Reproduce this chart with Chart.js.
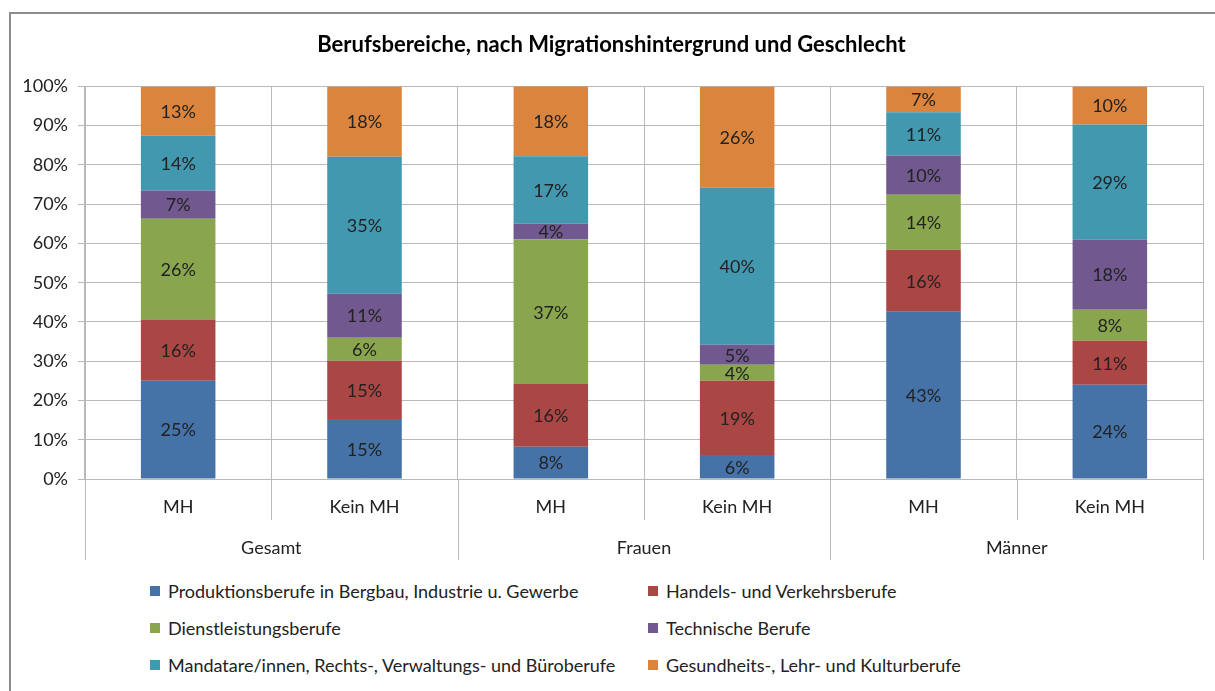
<!DOCTYPE html>
<html lang="de">
<head>
<meta charset="utf-8"/>
<title>Berufsbereiche</title>
<script src="https://cdn.jsdelivr.net/npm/chart.js"></script>
<style>
  body { margin: 0; background: #fff; font-family: Lato, sans-serif; }
  #wrap { position: relative; width: 1215px; height: 691px; overflow: hidden; }
  #frame { position: absolute; left: 9px; top: 12px; width: 1240px; height: 720px;
           border-left: 2px solid #8c8c8c; border-top: 2px solid #8c8c8c; }
  #chart { position: absolute; left: 0; top: 0; }
  #legend { position: absolute; left: 150px; top: 580px; display: grid;
            grid-template-columns: 498px 420px; row-gap: 15px; font-size: 18px; color: #222; }
  .item { display: flex; align-items: center; height: 22px; white-space: nowrap; }
  .box { width: 10px; height: 10px; margin-right: 8px; }
</style>
</head>
<body>
<div id="wrap">
  <div id="frame"></div>
  <canvas id="chart" width="1215" height="570"></canvas>
  <div id="legend"></div>
</div>
<script>
  const categories = ['MH', 'Kein MH', 'MH', 'Kein MH', 'MH', 'Kein MH'];
  const groups = ['Gesamt', 'Frauen', 'Männer'];

  const produktion = [25.0, 15.3, 8.2, 6.1, 42.6, 24.0];
  const handel     = [15.6, 14.8, 16.0, 18.9, 15.8, 11.2];
  const dienst     = [25.7, 5.9, 36.8, 4.1, 14.0, 7.9];
  const technisch  = [7.2, 11.2, 4.1, 5.1, 10.0, 17.9];
  const mandatare  = [14.0, 34.9, 17.1, 40.0, 11.0, 29.3];
  const gesundheit = [12.5, 17.9, 17.9, 25.8, 6.6, 9.7];

  const seriesNames = [
    'Produktionsberufe in Bergbau, Industrie u. Gewerbe',
    'Handels- und Verkehrsberufe',
    'Dienstleistungsberufe',
    'Technische Berufe',
    'Mandatare/innen, Rechts-, Verwaltungs- und Büroberufe',
    'Gesundheits-, Lehr- und Kulturberufe'
  ];
  const seriesData = [produktion, handel, dienst, technisch, mandatare, gesundheit];
  const colors = ['#4572A7', '#AA4643', '#89A54E', '#71588F', '#4198AF', '#DB843D'];

  const gridColor = '#b9b9b9';

  // Beschriftung in den Balken
  const valueLabels = {
    id: 'valueLabels',
    afterDatasetsDraw(chart) {
      const ctx = chart.ctx;
      ctx.save();
      ctx.font = '18px Lato, sans-serif';
      ctx.fillStyle = '#222';
      ctx.textAlign = 'center';
      ctx.textBaseline = 'middle';
      chart.data.datasets.forEach((ds, i) => {
        chart.getDatasetMeta(i).data.forEach((bar, j) => {
          const y = (bar.y + bar.base) / 2;
          ctx.fillText(Math.round(ds.data[j]) + '%', bar.x, y + 1);
        });
      });
      ctx.restore();
    }
  };

  // zweistufige Kategorienachse
  const groupAxis = {
    id: 'groupAxis',
    afterDraw(chart) {
      const x = chart.scales.x;
      const ctx = chart.ctx;
      const bottom = chart.chartArea.bottom;
      const half = (x.getPixelForValue(1) - x.getPixelForValue(0)) / 2;
      ctx.save();
      ctx.strokeStyle = gridColor;
      ctx.lineWidth = 1;
      for (let i = 0; i <= categories.length; i++) {
        const px = Math.round(x.getPixelForValue(i) - half) + 0.5;
        const len = i % 2 === 0 ? 81 : 41;
        ctx.beginPath();
        ctx.moveTo(px, bottom);
        ctx.lineTo(px, bottom + len);
        ctx.stroke();
      }
      ctx.font = '18px Lato, sans-serif';
      ctx.fillStyle = '#222';
      ctx.textAlign = 'center';
      ctx.textBaseline = 'middle';
      groups.forEach((g, k) => {
        const cx = (x.getPixelForValue(2 * k) + x.getPixelForValue(2 * k + 1)) / 2;
        ctx.fillText(g, cx, bottom + 69);
      });
      ctx.restore();
    }
  };

  new Chart(document.getElementById('chart'), {
    type: 'bar',
    data: {
      labels: categories,
      datasets: seriesData.map((d, i) => ({
        label: seriesNames[i],
        data: d,
        backgroundColor: colors[i],
        borderWidth: 0,
        barPercentage: 0.4,
        categoryPercentage: 1
      }))
    },
    options: {
      responsive: false,
      devicePixelRatio: 1,
      animation: false,
      layout: { padding: { left: 20, right: 12, top: 0, bottom: 0 } },
      plugins: {
        legend: { display: false },
        tooltip: { enabled: false },
        title: {
          display: true,
          text: 'Berufsbereiche, nach Migrationshintergrund und Geschlecht',
          color: '#000',
          font: { family: 'Lato, sans-serif', size: 22, weight: 'bold' },
          padding: { top: 32, bottom: 28 }
        }
      },
      scales: {
        x: {
          stacked: true,
          grid: { color: gridColor, offset: true, drawTicks: false },
          border: { color: gridColor },
          ticks: { color: '#222', font: { family: 'Lato, sans-serif', size: 18 }, padding: 17 },
          afterFit(s) { s.height = 91; }
        },
        y: {
          stacked: true,
          min: 0,
          max: 100,
          grid: { color: gridColor, tickLength: 7 },
          border: { color: gridColor },
          ticks: {
            stepSize: 10,
            color: '#222',
            font: { family: 'Lato, sans-serif', size: 18 },
            padding: 10,
            callback: v => v + '%'
          },
          afterFit(s) { s.width = 65; }
        }
      }
    },
    plugins: [valueLabels, groupAxis]
  });

  const legend = document.getElementById('legend');
  seriesNames.forEach((name, i) => {
    const el = document.createElement('div');
    el.className = 'item';
    el.innerHTML = '<span class="box" style="background:' + colors[i] + '"></span>' + name;
    legend.appendChild(el);
  });
</script>
</body>
</html>
